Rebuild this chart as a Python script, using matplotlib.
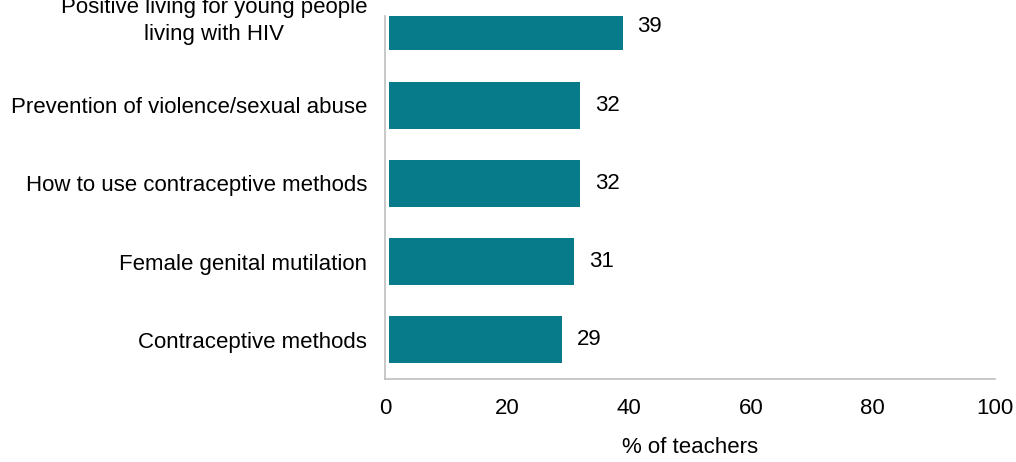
import matplotlib.pyplot as plt

# Topics taught, share of teachers (bottom to top)
topics = [
    "Contraceptive methods",
    "Female genital mutilation",
    "How to use contraceptive methods",
    "Prevention of violence/sexual abuse",
    "Positive living for young people\nliving with HIV",
]
values = [29, 31, 32, 32, 39]
value_labels = ["29", "31", "32", "32", "39"]
xticks = [0, 20, 40, 60, 80, 100]

plt.rcParams["font.family"] = ["Liberation Sans", "DejaVu Sans"]

fig = plt.figure(figsize=(10.16, 4.62), dpi=100)
ax = fig.add_axes([0.379, 0.1797, 0.600, 0.7856])

pos = list(range(len(topics)))
ax.barh(pos, [v - 0.6 for v in values], left=0.6, height=0.6, color="#077b8a", zorder=2)

for p, v, lab in zip(pos, values, value_labels):
    ax.text(v + 2.4, p, lab, va="center", ha="left", fontsize=16, color="black")

ax.set_xlim(0, 100)
ax.set_ylim(-0.5, 4.14)
ax.set_xticks(xticks)
ax.set_xticklabels([str(t) for t in xticks], fontsize=16)
ax.set_yticks(pos)
# the two-line label sits a little higher than its tick, so draw it by hand
ax.set_yticklabels(topics[:-1] + [""], fontsize=16)
ax.annotate(topics[-1], xy=(0, pos[-1]), xycoords=("axes fraction", "data"),
            xytext=(-18, 6), textcoords="offset pixels",
            ha="right", va="center", multialignment="center",
            linespacing=1.4, fontsize=16, annotation_clip=False)
ax.tick_params(axis="both", length=0)
ax.tick_params(axis="x", pad=14)
ax.tick_params(axis="y", pad=13)
ax.set_xlabel("% of teachers", fontsize=16, labelpad=13)

for s in ["top", "right"]:
    ax.spines[s].set_visible(False)
for s in ["left", "bottom"]:
    ax.spines[s].set_color("#bfbfbf")
    ax.spines[s].set_linewidth(1.2)

fig.savefig("out.png", dpi=100)
